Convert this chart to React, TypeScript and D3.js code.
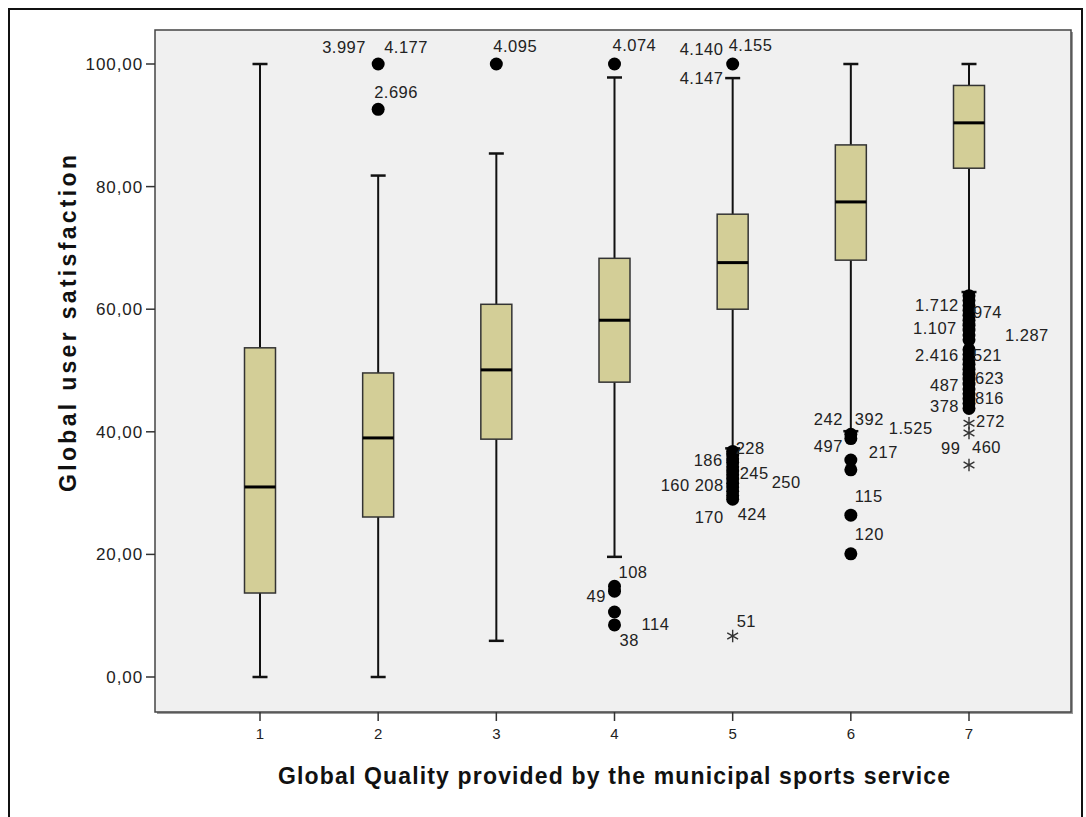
import React, { useEffect } from "react";
import * as d3 from "d3";

const groups = ["1", "2", "3", "4", "5", "6", "7"];
const q1 = [13.7, 26.1, 38.8, 48.1, 60.0, 68.0, 83.0];
const medians = [31.0, 39.0, 50.1, 58.2, 67.6, 77.5, 90.4];
const q3 = [53.7, 49.6, 60.8, 68.3, 75.5, 86.8, 96.5];
const whiskerLow = [0, 0, 5.9, 19.6, 37.3, 40.1, 62.8];
const whiskerHigh = [100, 81.8, 85.4, 97.8, 97.7, 100, 100];

// outliers (circles) per group: [groupIndex, value]
const outliers: [number, number][] = [
  [1, 100], [1, 92.6],
  [2, 100],
  [3, 100], [3, 14.8], [3, 14.0], [3, 10.6], [3, 8.5],
  [4, 100], [4, 36.8], [4, 36.2], [4, 35.6], [4, 35.0], [4, 34.3], [4, 33.6], [4, 33.0], [4, 32.3],
  [4, 31.6], [4, 31.0], [4, 30.3], [4, 29.6], [4, 29.0],
  [5, 39.6], [5, 38.9], [5, 35.4], [5, 33.8], [5, 26.4], [5, 20.1],
  [6, 62.2], [6, 61.4], [6, 60.6], [6, 59.8], [6, 59.0], [6, 58.2], [6, 57.4], [6, 56.6], [6, 55.8],
  [6, 55.0], [6, 53.4], [6, 52.6], [6, 51.8], [6, 51.0], [6, 50.2], [6, 49.4], [6, 48.6], [6, 47.8],
  [6, 47.0], [6, 46.2], [6, 45.4], [6, 44.6], [6, 43.8],
];
// extremes (stars)
const extremes: [number, number][] = [
  [4, 6.7], [6, 41.4], [6, 39.8], [6, 34.6],
];

// labels: [groupIndex, text, value (vertical centre), dx from group centre in px]
const labels: [number, string, number, number][] = [
  [1, "3.997", 102.8, -56], [1, "4.177", 102.8, 6], [1, "2.696", 95.4, -4],
  [2, "4.095", 102.9, -3],
  [3, "4.074", 103.1, -2], [3, "108", 17.1, 4], [3, "49", 13.1, -28], [3, "114", 8.6, 27], [3, "38", 6.0, 5],
  [4, "4.140", 102.4, -53], [4, "4.155", 103.1, -4], [4, "4.147", 97.6, -53],
  [4, "228", 37.4, 3], [4, "186", 35.4, -39], [4, "245", 33.3, 7], [4, "160", 31.3, -72], [4, "208", 31.3, -38],
  [4, "250", 31.8, 39], [4, "170", 26.1, -38], [4, "424", 26.6, 5], [4, "51", 9.1, 4],
  [5, "242", 42.1, -37], [5, "392", 42.1, 4], [5, "1.525", 40.6, 38], [5, "497", 37.7, -37], [5, "217", 36.7, 18],
  [5, "115", 29.5, 4], [5, "120", 23.3, 4],
  [6, "1.712", 60.7, -54], [6, "974", 59.5, 4], [6, "1.107", 56.9, -56], [6, "1.287", 55.8, 36],
  [6, "2.416", 52.5, -54], [6, "521", 52.5, 4], [6, "487", 47.6, -39], [6, "623", 48.8, 6],
  [6, "378", 44.2, -39], [6, "816", 45.5, 6], [6, "272", 41.8, 7], [6, "99", 37.4, -28], [6, "460", 37.5, 3],
];

const yTicks = [0, 20, 40, 60, 80, 100];

export default function App() {
  useEffect(() => {
    document.body.style.margin = "0";
  }, []);

  const W = 1086, H = 817;
  const plot = { left: 155, top: 30, right: 1071, bottom: 712 };
  const x = d3.scaleLinear().domain([1, 7]).range([260, 969]);
  const y = d3.scaleLinear().domain([0, 100]).range([677, 64]);
  const boxW = 31;
  const capW = 15;
  const fmt = (v: number) => d3.format(".2f")(v).replace(".", ",");
  const star = d3.symbol().type(d3.symbolAsterisk).size(110)();
  const font = "Arial, 'Liberation Sans', sans-serif";

  return (
    <svg width={W} height={H} style={{ display: "block" }} fontFamily={font}>
      <rect x={0} y={0} width={W} height={H} fill="#ffffff" />
      <rect x={9} y={9} width={1073} height={830} fill="none" stroke="#111" strokeWidth={2} />
      {/* plot area */}
      <rect x={plot.left + 2} y={plot.top + 2} width={plot.right - plot.left} height={plot.bottom - plot.top} fill="#9a9a9a" />
      <rect x={plot.left} y={plot.top} width={plot.right - plot.left} height={plot.bottom - plot.top} fill="#f0f0f0" stroke="#444" strokeWidth={1.5} />

      {/* y axis ticks */}
      {yTicks.map((t) => (
        <g key={t}>
          <line x1={plot.left - 9} x2={plot.left} y1={y(t)} y2={y(t)} stroke="#333" strokeWidth={1.5} />
          <text x={plot.left - 12} y={y(t)} dy="0.35em" textAnchor="end" fontSize={17} letterSpacing={0.9} fill="#222">{fmt(t)}</text>
        </g>
      ))}
      {/* x axis ticks */}
      {groups.map((g, i) => (
        <g key={g}>
          <line x1={x(i + 1)} x2={x(i + 1)} y1={plot.bottom} y2={plot.bottom + 9} stroke="#333" strokeWidth={1.5} />
          <text x={x(i + 1)} y={plot.bottom + 27} textAnchor="middle" fontSize={15} fill="#222">{g}</text>
        </g>
      ))}

      {/* boxes */}
      {groups.map((g, i) => {
        const cx = x(i + 1);
        return (
          <g key={"b" + g}>
            <line x1={cx} x2={cx} y1={y(whiskerHigh[i])} y2={y(q3[i])} stroke="#111" strokeWidth={2} />
            <line x1={cx} x2={cx} y1={y(q1[i])} y2={y(whiskerLow[i])} stroke="#111" strokeWidth={2} />
            <line x1={cx - capW / 2} x2={cx + capW / 2} y1={y(whiskerHigh[i])} y2={y(whiskerHigh[i])} stroke="#111" strokeWidth={2.5} />
            <line x1={cx - capW / 2} x2={cx + capW / 2} y1={y(whiskerLow[i])} y2={y(whiskerLow[i])} stroke="#111" strokeWidth={2.5} />
            <rect x={cx - boxW / 2} y={y(q3[i])} width={boxW} height={y(q1[i]) - y(q3[i])} fill="#d3ce97" stroke="#333" strokeWidth={1.5} />
            <line x1={cx - boxW / 2} x2={cx + boxW / 2} y1={y(medians[i])} y2={y(medians[i])} stroke="#000" strokeWidth={3} />
          </g>
        );
      })}

      {/* outliers */}
      {outliers.map(([gi, v], k) => (
        <circle key={"o" + k} cx={x(gi + 1)} cy={y(v)} r={6.5} fill="#000" />
      ))}
      {extremes.map(([gi, v], k) => (
        <path key={"e" + k} d={star || ""} transform={`translate(${x(gi + 1)},${y(v)})`} fill="none" stroke="#333" strokeWidth={1.4} />
      ))}
      {labels.map(([gi, t, v, dx], k) => (
        <text key={"l" + k} x={x(gi + 1) + dx} y={y(v)} dy="0.35em" fontSize={16.5} letterSpacing={0.5} fill="#222">{t}</text>
      ))}

      {/* axis titles */}
      <text x={278} y={784} textLength={672} lengthAdjust="spacing" fontSize={23} fontWeight="bold" fill="#111">
        Global Quality provided by the municipal sports service
      </text>
      <text transform={`translate(76,492) rotate(-90)`} textLength={337} lengthAdjust="spacing" fontSize={23} fontWeight="bold" fill="#111">
        Global user satisfaction
      </text>
    </svg>
  );
}
